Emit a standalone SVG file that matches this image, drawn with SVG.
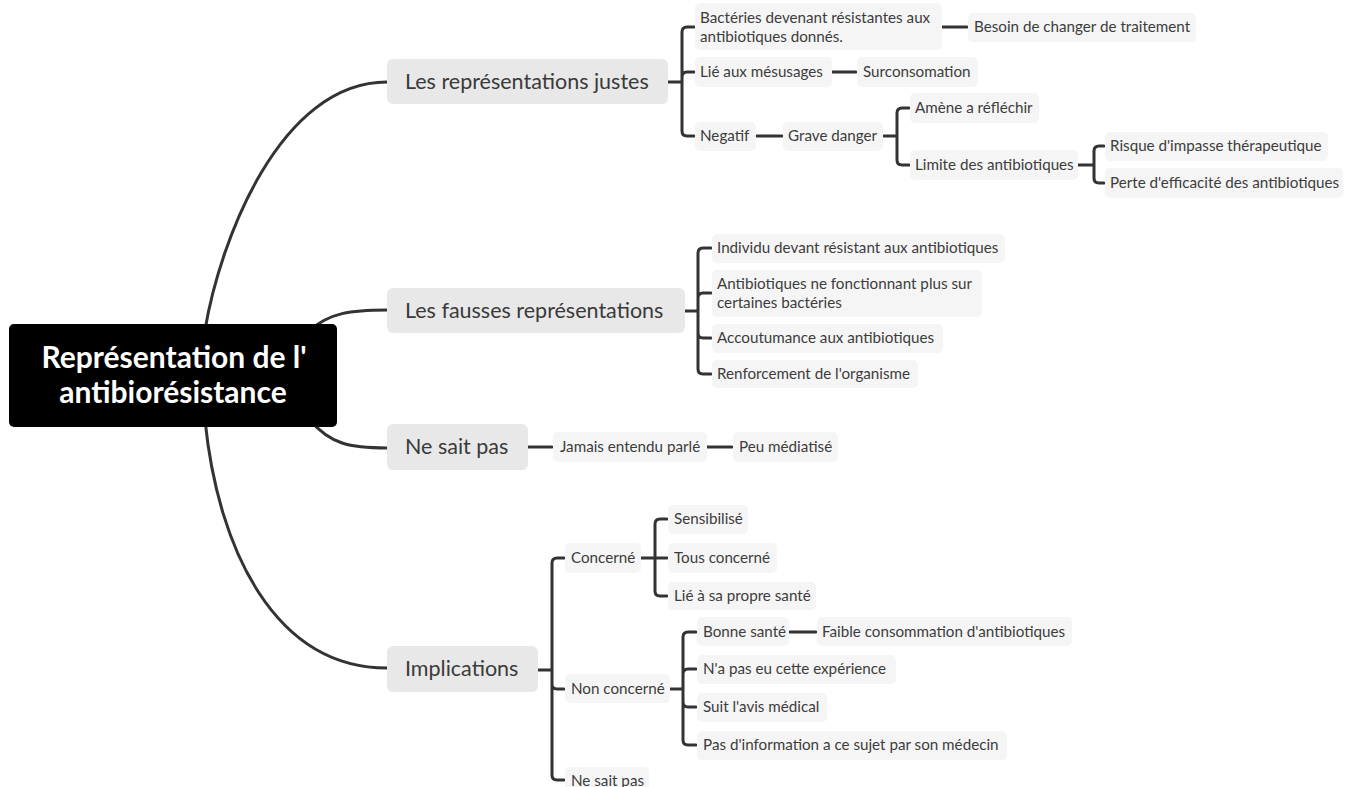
<svg xmlns="http://www.w3.org/2000/svg" width="1354" height="787" viewBox="0 0 1354 787">
<style>
.con{fill:none;stroke:#333;stroke-width:3;stroke-linecap:round;stroke-linejoin:round}
.main{fill:none;stroke:#333;stroke-width:3}
.l1 rect{fill:#e8e8e8}
.l1 text{font-family:Lato,"Open Sans",sans-serif;font-size:21.5px;fill:#3a3a3a}
.l2 rect{fill:#f5f5f5}
.l2 text{font-family:Lato,"Open Sans",sans-serif;font-size:15.2px;fill:#3c3c3c}
.root text{font-family:Lato,"Open Sans",sans-serif;font-size:30px;font-weight:bold;fill:#fff}
</style>
<rect width="1354" height="787" fill="#fff"/>
<g id="connectors">
<path class="main" d="M205,330 C220,240 280,82 387,82"/>
<path class="main" d="M310,330 C330,313 350,310 387,310"/>
<path class="main" d="M310,420 C330,444 350,448 387,448"/>
<path class="main" d="M205,420 C218,550 275,668 387,668"/>
<path class="con" d="M668,82 H682 M682,82 V32 Q682,27 687,27 H694 M682,82 V77 Q682,72 687,72 H694 M682,82 V131 Q682,136 687,136 H694"/>
<path class="con" d="M942,27 H967 M832,72 H856 M756,136 H782"/>
<path class="con" d="M883,136 H897 M897,136 V113 Q897,108 902,108 H909 M897,136 V160 Q897,165 902,165 H909"/>
<path class="con" d="M1078,165 H1094 M1094,165 V151 Q1094,146 1099,146 H1104 M1094,165 V178 Q1094,183 1099,183 H1104"/>
<path class="con" d="M685,311 H698 M698,311 V253 Q698,248 703,248 H711 M698,311 V298 Q698,293 703,293 H711 M698,311 V333 Q698,338 703,338 H711 M698,311 V369 Q698,374 703,374 H711"/>
<path class="con" d="M528,447 H552 M707,447 H732"/>
<path class="con" d="M538,670 H552 M552,670 V563 Q552,558 557,558 H564 M552,670 V684 Q552,689 557,689 H564 M552,670 V775 Q552,780 557,780 H564"/>
<path class="con" d="M641,558 H655 M655,558 V524 Q655,519 660,519 H667 M655,558 H667 M655,558 V591 Q655,596 660,596 H667"/>
<path class="con" d="M670,689 H683 M683,689 V637 Q683,632 688,632 H696 M683,689 V674 Q683,669 688,669 H696 M683,689 V702 Q683,707 688,707 H696 M683,689 V740 Q683,745 688,745 H696"/>
<path class="con" d="M789,632 H816"/>
</g>
<g id="root" class="root">
<rect x="9" y="324" width="328" height="103" rx="5" fill="#000"/>
<text x="174" y="368" text-anchor="middle">Représentation de l'</text>
<text x="173" y="403" text-anchor="middle">antibiorésistance</text>
</g>
<g id="n-justes" class="l1"><rect x="387" y="59" width="281" height="45" rx="6"/><text x="405" y="89">Les représentations justes</text></g>
<g id="n-fausses" class="l1"><rect x="387" y="288" width="298" height="45" rx="6"/><text x="405" y="318">Les fausses représentations</text></g>
<g id="n-nsp" class="l1"><rect x="387" y="424" width="141" height="46" rx="6"/><text x="405" y="454">Ne sait pas</text></g>
<g id="n-impl" class="l1"><rect x="387" y="646" width="151" height="46" rx="6"/><text x="405" y="676">Implications</text></g>

<g id="n-bacteries" class="l2"><rect x="695" y="3" width="247" height="47" rx="5"/><text x="700" y="23">Bactéries devenant résistantes aux</text><text x="700" y="42">antibiotiques donnés.</text></g>
<g id="n-besoin" class="l2"><rect x="968" y="13" width="228" height="29" rx="5"/><text x="974" y="32">Besoin de changer de traitement</text></g>
<g id="n-lie" class="l2"><rect x="695" y="57" width="137" height="30" rx="5"/><text x="700" y="77">Lié aux mésusages</text></g>
<g id="n-surcons" class="l2"><rect x="857" y="57" width="121" height="30" rx="5"/><text x="863" y="77">Surconsomation</text></g>
<g id="n-negatif" class="l2"><rect x="695" y="122" width="61" height="29" rx="5"/><text x="700" y="141">Negatif</text></g>
<g id="n-grave" class="l2"><rect x="783" y="122" width="100" height="29" rx="5"/><text x="788" y="141">Grave danger</text></g>
<g id="n-amene" class="l2"><rect x="910" y="93" width="129" height="30" rx="5"/><text x="915" y="113">Amène a réfléchir</text></g>
<g id="n-limite" class="l2"><rect x="910" y="150" width="168" height="30" rx="5"/><text x="915" y="170">Limite des antibiotiques</text></g>
<g id="n-risque" class="l2"><rect x="1105" y="132" width="223" height="29" rx="5"/><text x="1110" y="151">Risque d'impasse thérapeutique</text></g>
<g id="n-perte" class="l2"><rect x="1105" y="168" width="238" height="30" rx="5"/><text x="1110" y="188">Perte d'efficacité des antibiotiques</text></g>

<g id="n-individu" class="l2"><rect x="712" y="234" width="293" height="29" rx="5"/><text x="717" y="253">Individu devant résistant aux antibiotiques</text></g>
<g id="n-antibio" class="l2"><rect x="712" y="270" width="270" height="47" rx="5"/><text x="717" y="289">Antibiotiques ne fonctionnant plus sur</text><text x="717" y="308">certaines bactéries</text></g>
<g id="n-accout" class="l2"><rect x="712" y="324" width="231" height="29" rx="5"/><text x="717" y="343">Accoutumance aux antibiotiques</text></g>
<g id="n-renfor" class="l2"><rect x="712" y="360" width="206" height="28" rx="5"/><text x="717" y="379">Renforcement de l'organisme</text></g>

<g id="n-jamais" class="l2"><rect x="553" y="432" width="154" height="30" rx="5"/><text x="560" y="452">Jamais entendu parlé</text></g>
<g id="n-peu" class="l2"><rect x="733" y="432" width="105" height="30" rx="5"/><text x="739" y="452">Peu médiatisé</text></g>

<g id="n-concerne" class="l2"><rect x="565" y="543" width="76" height="30" rx="5"/><text x="571" y="563">Concerné</text></g>
<g id="n-nonconcerne" class="l2"><rect x="565" y="674" width="105" height="29" rx="5"/><text x="571" y="694">Non concerné</text></g>
<g id="n-nsp2" class="l2"><rect x="565" y="767" width="84" height="30" rx="5"/><text x="571" y="786">Ne sait pas</text></g>
<g id="n-sensib" class="l2"><rect x="668" y="505" width="80" height="29" rx="5"/><text x="674" y="524">Sensibilisé</text></g>
<g id="n-tous" class="l2"><rect x="668" y="543" width="109" height="30" rx="5"/><text x="674" y="563">Tous concerné</text></g>
<g id="n-liesante" class="l2"><rect x="668" y="582" width="148" height="28" rx="5"/><text x="674" y="601">Lié à sa propre santé</text></g>
<g id="n-bonne" class="l2"><rect x="697" y="617" width="92" height="29" rx="5"/><text x="703" y="637">Bonne santé</text></g>
<g id="n-faible" class="l2"><rect x="817" y="617" width="255" height="29" rx="5"/><text x="822" y="637">Faible consommation d'antibiotiques</text></g>
<g id="n-napas" class="l2"><rect x="697" y="655" width="199" height="29" rx="5"/><text x="703" y="674">N'a pas eu cette expérience</text></g>
<g id="n-suit" class="l2"><rect x="697" y="693" width="130" height="29" rx="5"/><text x="703" y="712">Suit l'avis médical</text></g>
<g id="n-pas" class="l2"><rect x="697" y="731" width="310" height="29" rx="5"/><text x="703" y="750">Pas d'information a ce sujet par son médecin</text></g>
</svg>
